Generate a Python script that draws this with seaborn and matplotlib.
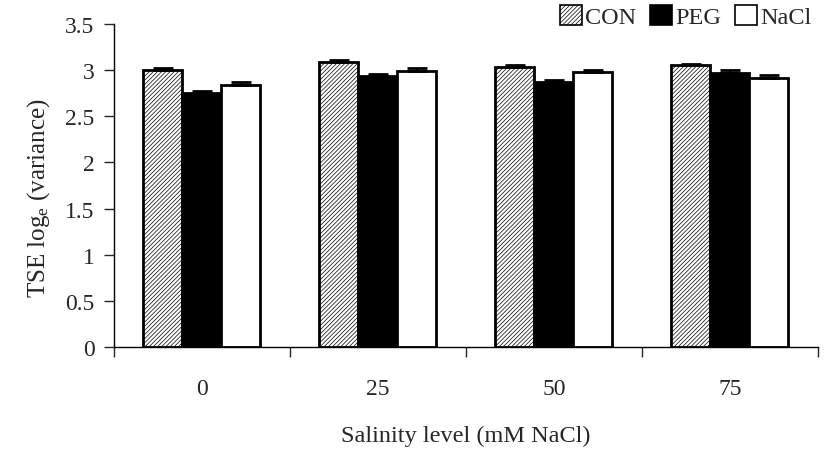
import matplotlib
matplotlib.use("Agg")
import matplotlib.pyplot as plt
import seaborn as sns
import pandas as pd
import numpy as np
from matplotlib.patches import Patch

# Salinity treatments and seed-priming groups
salinity = ["0", "25", "50", "75"]
treatments = ["CON", "PEG", "NaCl"]

# Mean TSE log_e (variance) per treatment across salinity levels
con_vals = [3.00, 3.09, 3.03, 3.05]
peg_vals = [2.75, 2.93, 2.87, 2.97]
nacl_vals = [2.84, 2.99, 2.98, 2.91]

# Standard errors
con_err = [0.02, 0.02, 0.02, 0.02]
peg_err = [0.02, 0.03, 0.025, 0.025]
nacl_err = [0.03, 0.03, 0.025, 0.035]

values = {"CON": con_vals, "PEG": peg_vals, "NaCl": nacl_vals}
errors = {"CON": con_err, "PEG": peg_err, "NaCl": nacl_err}

rows = []
for t in treatments:
    for s, v, e in zip(salinity, values[t], errors[t]):
        rows.append({"Salinity": s, "Treatment": t, "TSE": v, "err": e})
df = pd.DataFrame(rows)

sns.set_style("ticks")
plt.rcParams["font.family"] = ["Liberation Serif", "DejaVu Serif"]
plt.rcParams["mathtext.fontset"] = "custom"
plt.rcParams["mathtext.rm"] = "Liberation Serif"
plt.rcParams["mathtext.it"] = "Liberation Serif:italic"
plt.rcParams["hatch.linewidth"] = 0.5

fig = plt.figure(figsize=(8.26, 4.52), dpi=100)
ax = fig.add_axes([0.138, 0.230, 0.852, 0.715])

styles = {
    "CON": dict(facecolor="white", hatch="////////"),
    "PEG": dict(facecolor="black", hatch=None),
    "NaCl": dict(facecolor="white", hatch=None),
}

sns.barplot(data=df, x="Salinity", y="TSE", hue="Treatment",
            order=salinity, hue_order=treatments, errorbar=None,
            width=0.665, ax=ax, legend=False,
            palette={"CON": "white", "PEG": "black", "NaCl": "white"})

# Style bars per treatment and add upper-only error bars
for container, t in zip(ax.containers, treatments):
    st = styles[t]
    for bar in container:
        bar.set_facecolor(st["facecolor"])
        bar.set_edgecolor("black")
        bar.set_linewidth(2.0)
        if st["hatch"]:
            bar.set_hatch(st["hatch"])
    xs = [b.get_x() + b.get_width() / 2 for b in container]
    hs = [b.get_height() for b in container]
    errs = errors[t]
    ax.errorbar(xs, hs, yerr=[np.zeros(len(errs)), errs], fmt="none",
                ecolor="black", elinewidth=1.4, capsize=7, capthick=2.0,
                zorder=3)

ax.set_ylim(0, 3.5)
ax.set_xlim(-0.5, len(salinity) - 0.5)
ax.set_yticks(np.arange(0, 3.51, 0.5))
ax.set_yticklabels(["0", "0.5", "1", "1.5", "2", "2.5", "3", "3.5"])
ax.set_xticks(range(len(salinity)))
ax.set_xticklabels(salinity)
ax.set_xticks(np.arange(-0.5, len(salinity), 1.0), minor=True)
ax.tick_params(axis="x", which="major", length=0, pad=22, labelsize=17)
ax.tick_params(axis="x", which="minor", length=7, width=1, direction="out")
ax.tick_params(axis="y", length=7, width=1, direction="out", pad=7,
               labelsize=17)

for side in ["top", "right"]:
    ax.spines[side].set_visible(False)
for side in ["left", "bottom"]:
    ax.spines[side].set_linewidth(1.0)
    ax.spines[side].set_color("black")

ax.set_xlabel("Salinity level (mM NaCl)", fontsize=17.5, labelpad=19)
ax.set_ylabel(r"TSE log$_\mathrm{e}$ (variance)", fontsize=18)
ax.yaxis.set_label_coords(-0.088, 0.465)

handles = [Patch(facecolor=styles[t]["facecolor"], edgecolor="black",
                 hatch=styles[t]["hatch"], linewidth=1.2) for t in treatments]
fig.legend(handles, treatments, loc="upper right", ncol=3,
           bbox_to_anchor=(1.0, 1.02), frameon=False, fontsize=17.5,
           handlelength=0.9, handleheight=0.9, handletextpad=0.15,
           columnspacing=0.55, borderaxespad=0.2)

fig.savefig("out.png", dpi=100)
